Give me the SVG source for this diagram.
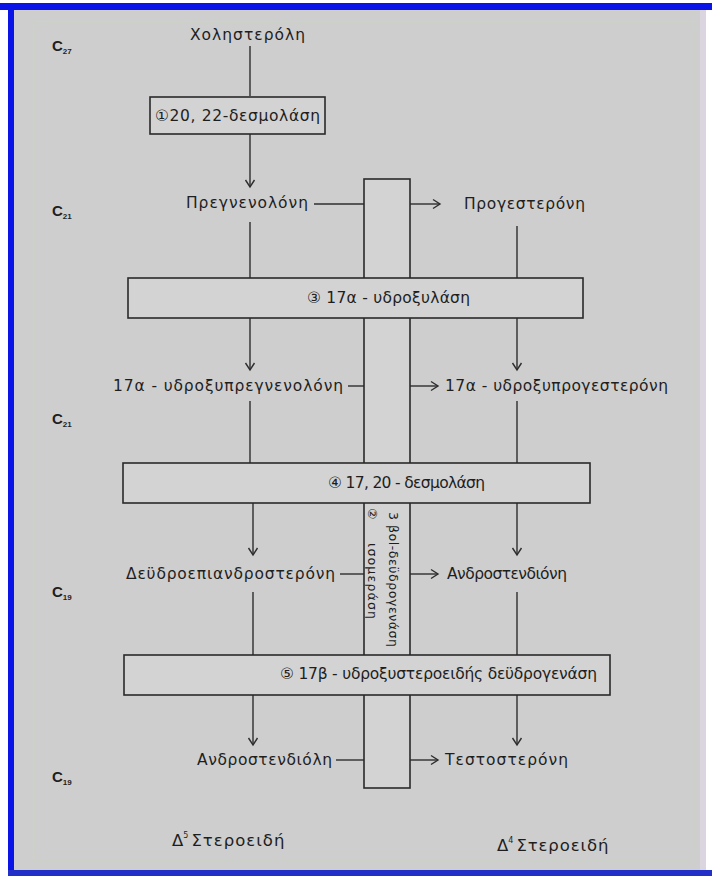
<svg xmlns="http://www.w3.org/2000/svg" width="712" height="876" viewBox="0 0 712 876">
<style>
text{font-family:"DejaVu Sans","Liberation Sans",sans-serif;fill:#1e1e1e;font-size:15.5px}
.c{font-family:"Liberation Sans","DejaVu Sans",sans-serif;font-weight:bold;font-size:15px}
.sub{font-size:8px}
.box{fill:#d3d3d3;stroke:#2a2a2a;stroke-width:1.6}
.ln{stroke:#2e2e2e;stroke-width:1.4;fill:none}
.v{font-size:12.5px}
.ft{font-size:16.5px}
</style>
<defs>
<marker id="arr" viewBox="-9 -6 11 12" refX="0" refY="0" markerWidth="11" markerHeight="12" orient="auto" markerUnits="userSpaceOnUse">
<path d="M-7,-4.5 L0,0 L-7,4.5" fill="none" stroke="#2e2e2e" stroke-width="1.4"/>
</marker>
</defs>
<rect x="0" y="0" width="712" height="876" fill="#ffffff"/>
<rect x="14" y="10" width="692" height="860" fill="#cecece"/>
<rect x="34" y="22" width="660" height="838" fill="none" stroke="#cad2c6" stroke-width="1.2"/>
<rect x="700" y="10" width="6" height="860" fill="#dad5df"/>
<rect x="0" y="3" width="712" height="7" fill="#0a14e6"/>
<rect x="8" y="3" width="6" height="873" fill="#0a14e6"/>
<rect x="8" y="870" width="704" height="6" fill="#2230c8"/>

<g id="carbon-labels">
<text class="c" x="52" y="51">C<tspan class="sub" dy="3">27</tspan></text>
<text class="c" x="52" y="216">C<tspan class="sub" dy="3">21</tspan></text>
<text class="c" x="52" y="424">C<tspan class="sub" dy="3">21</tspan></text>
<text class="c" x="52" y="597">C<tspan class="sub" dy="3">19</tspan></text>
<text class="c" x="52" y="782">C<tspan class="sub" dy="3">19</tspan></text>
</g>

<g id="connectors">
<line class="ln" x1="250" y1="46" x2="250" y2="96"/>
<line class="ln" x1="250" y1="133" x2="250" y2="187" marker-end="url(#arr)"/>
<line class="ln" x1="314" y1="204" x2="364" y2="204"/>
<line class="ln" x1="410" y1="204" x2="440" y2="204" marker-end="url(#arr)"/>
<line class="ln" x1="250" y1="222" x2="250" y2="278"/>
<line class="ln" x1="517" y1="226" x2="517" y2="278"/>
<line class="ln" x1="250" y1="317" x2="250" y2="370" marker-end="url(#arr)"/>
<line class="ln" x1="517" y1="317" x2="517" y2="370" marker-end="url(#arr)"/>
<line class="ln" x1="348" y1="386" x2="364" y2="386"/>
<line class="ln" x1="410" y1="386" x2="438" y2="386" marker-end="url(#arr)"/>
<line class="ln" x1="250" y1="401" x2="250" y2="463"/>
<line class="ln" x1="517" y1="401" x2="517" y2="463"/>
<line class="ln" x1="253" y1="502" x2="253" y2="555" marker-end="url(#arr)"/>
<line class="ln" x1="517" y1="502" x2="517" y2="555" marker-end="url(#arr)"/>
<line class="ln" x1="340" y1="574" x2="364" y2="574"/>
<line class="ln" x1="410" y1="574" x2="438" y2="574" marker-end="url(#arr)"/>
<line class="ln" x1="253" y1="592" x2="253" y2="656"/>
<line class="ln" x1="517" y1="592" x2="517" y2="656"/>
<line class="ln" x1="253" y1="694" x2="253" y2="745" marker-end="url(#arr)"/>
<line class="ln" x1="517" y1="694" x2="517" y2="745" marker-end="url(#arr)"/>
<line class="ln" x1="336" y1="760" x2="364" y2="760"/>
<line class="ln" x1="410" y1="760" x2="438" y2="760" marker-end="url(#arr)"/>
</g>

<g id="enzyme2">
<rect class="box" x="364" y="179" width="46" height="609"/>
<text class="v" transform="translate(389,512) rotate(90)" textLength="135" lengthAdjust="spacing">3 βol-δεϋδρογενάση</text>
<text class="v" transform="translate(368,508) rotate(90)">②</text>
<text class="v" transform="translate(368,543) rotate(90)" textLength="76" lengthAdjust="spacing">ισομεράση</text>
</g>

<g id="cholesterol"><text x="190" y="40" textLength="115" lengthAdjust="spacing">Χοληστερόλη</text></g>
<g id="enzyme1">
<rect class="box" x="150" y="97" width="175" height="37"/>
<text x="155" y="121" textLength="165" lengthAdjust="spacing">①20, 22-δεσμολάση</text>
</g>
<g id="pregnenolone"><text x="186" y="208" textLength="122" lengthAdjust="spacing">Πρεγνενολόνη</text></g>
<g id="progesterone"><text x="464" y="209" textLength="121" lengthAdjust="spacing">Προγεστερόνη</text></g>

<g id="enzyme3">
<rect class="box" x="128" y="278" width="455" height="40"/>
<text x="307" y="303" textLength="163" lengthAdjust="spacing">③ 17α - υδροξυλάση</text>
</g>
<g id="oh-pregnenolone"><text x="113" y="391" textLength="230" lengthAdjust="spacing">17α - υδροξυπρεγνενολόνη</text></g>
<g id="oh-progesterone"><text x="445" y="391" textLength="223" lengthAdjust="spacing">17α - υδροξυπρογεστερόνη</text></g>

<g id="enzyme4">
<rect class="box" x="123" y="463" width="467" height="40"/>
<text x="328" y="488" textLength="157" lengthAdjust="spacing">④ 17, 20 - δεσμολάση</text>
</g>
<g id="dhea"><text x="126" y="579" textLength="209" lengthAdjust="spacing">Δεϋδροεπιανδροστερόνη</text></g>
<g id="androstenedione"><text x="447" y="579" textLength="120" lengthAdjust="spacing">Ανδροστενδιόνη</text></g>

<g id="enzyme5">
<rect class="box" x="124" y="655" width="486" height="40"/>
<text x="280" y="679" textLength="317" lengthAdjust="spacing">⑤ 17β - υδροξυστεροειδής δεϋδρογενάση</text>
</g>
<g id="androstenediol"><text x="197" y="765" textLength="135" lengthAdjust="spacing">Ανδροστενδιόλη</text></g>
<g id="testosterone"><text x="445" y="765" textLength="123" lengthAdjust="spacing">Τεστοστερόνη</text></g>

<g id="footer">
<text class="ft" x="172" y="846">Δ<tspan class="sub" dy="-8">5</tspan><tspan dy="8" dx="3" textLength="93" lengthAdjust="spacing">Στεροειδή</tspan></text>
<text class="ft" x="497" y="851">Δ<tspan class="sub" dy="-8">4</tspan><tspan dy="8" dx="3" textLength="92" lengthAdjust="spacing">Στεροειδή</tspan></text>
</g>
</svg>
